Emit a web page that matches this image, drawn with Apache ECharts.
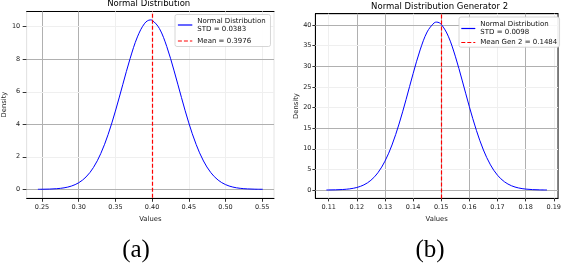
<!DOCTYPE html>
<html><head><meta charset="utf-8">
<script src="https://cdn.jsdelivr.net/npm/echarts@6/dist/echarts.min.js"></script>
<style>html,body{margin:0;padding:0;background:#fff}#c{width:564px;height:264px}</style>
</head><body><div id="c"></div>
<script>
// ---- Panel (a) ----
const leftX = [0.2444,0.25,0.26,0.27,0.28,0.29,0.30,0.31,0.32,0.33,0.34,0.35,0.36,0.37,0.38,0.39,0.3976,0.40,0.41,0.42,0.43,0.44,0.45,0.46,0.47,0.48,0.49,0.50,0.51,0.52,0.53,0.54,0.5508];
const leftY = [0.004,0.006,0.016,0.040,0.093,0.201,0.405,0.761,1.337,2.194,3.361,4.811,6.433,8.034,9.372,10.213,10.416,10.396,9.884,8.779,7.283,5.645,4.085,2.762,1.745,1.029,0.567,0.292,0.141,0.063,0.027,0.010,0.004];
const leftMean = 0.3976;
const leftStd = 0.0383;
const leftXRange = [0.2291, 0.5661];
const leftYRange = [-0.52, 10.94];
const leftXTicks = [0.25,0.30,0.35,0.40,0.45,0.50,0.55];
const leftYTicks = [0,2,4,6,8,10];
const leftTitle = 'Normal Distribution';

// ---- Panel (b) ----
const rightX = [0.1092,0.110,0.1125,0.115,0.1175,0.120,0.1225,0.125,0.1275,0.130,0.1325,0.135,0.1375,0.140,0.1425,0.145,0.1475,0.1484,0.150,0.1525,0.155,0.1575,0.160,0.1625,0.165,0.1675,0.170,0.1725,0.175,0.1775,0.180,0.1825,0.185,0.1876];
const rightY = [0.014,0.019,0.050,0.122,0.282,0.611,1.239,2.353,4.189,6.986,10.918,15.99,21.93,28.20,33.96,38.33,40.54,40.71,40.17,37.30,32.45,26.45,20.20,14.46,9.697,6.094,3.587,1.979,1.023,0.496,0.225,0.096,0.038,0.014];
const rightMean = 0.1484;
const rightStd = 0.0098;
const rightXRange = [0.10528, 0.19152];
const rightYRange = [-2.035, 42.75];
const rightXTicks = [0.11,0.12,0.13,0.14,0.15,0.16,0.17,0.18,0.19];
const rightYTicks = [0,5,10,15,20,25,30,35,40];
const rightTitle = 'Normal Distribution Generator 2';

const captions = ['(a)', '(b)'];

const G = '#b0b0b0', F = '#efefef';
const leftXGrid = [G,G,F,F,F,F,F];
const leftYGrid = [G,F,G,F,G,F];
const rightXGrid = [F,G,G,F,G,G,F,G,F];
const rightYGrid = [G,F,F,G,F,F,G,F,G];

const FONT = 'DejaVu Sans';
const lblStyle = {fontSize: 6.5, color: '#222', fontFamily: FONT};
const nameStyle = {fontSize: 6.8, color: '#222', fontFamily: FONT};

const leftCurveName = 'Normal Distribution\nSTD = ' + leftStd.toFixed(4);
const leftMeanName = 'Mean = ' + leftMean.toFixed(4);
const rightCurveName = 'Normal Distribution\nSTD = ' + rightStd.toFixed(4);
const rightMeanName = 'Mean Gen 2 = ' + rightMean.toFixed(4);

function xAxisDef(grid, range, ticks, dec, margin, tickLen, nameGap){
  return {
    gridIndex: grid, type: 'value', min: range[0], max: range[1],
    axisLine: {show: true, onZero: false, lineStyle: {color: '#000', width: 1}},
    axisTick: {show: true, length: tickLen, customValues: ticks, lineStyle: {color: '#000', width: 0.8}},
    axisLabel: Object.assign({customValues: ticks, formatter: v => Number(v).toFixed(dec), margin: margin, hideOverlap: false,
      alignMinLabel: 'center', alignMaxLabel: 'center'}, lblStyle),
    splitLine: {show: false},
    name: 'Values', nameLocation: 'middle', nameGap: nameGap, nameTextStyle: nameStyle
  };
}
function yAxisDef(grid, range, ticks, margin, tickLen, nameGap, lineColor){
  return {
    gridIndex: grid, type: 'value', min: range[0], max: range[1],
    axisLine: {show: true, onZero: false, lineStyle: {color: lineColor, width: 1}},
    axisTick: {show: true, length: tickLen, customValues: ticks, lineStyle: {color: '#000', width: 0.8}},
    axisLabel: Object.assign({customValues: ticks, formatter: v => String(Math.round(v)), margin: margin, hideOverlap: false}, lblStyle),
    splitLine: {show: false},
    name: 'Density', nameLocation: 'middle', nameGap: nameGap, nameRotate: 90, nameTextStyle: nameStyle
  };
}
function topAxis(grid, range){
  return {gridIndex: grid, type: 'value', position: 'top', min: range[0], max: range[1],
    axisLine: {show: true, onZero: false, lineStyle: {color: '#000', width: 1}},
    axisTick: {show: false}, axisLabel: {show: false}, splitLine: {show: false}};
}
function gridLines(xi, yi, xt, xc, yt, yc){
  const d = [];
  xt.forEach((t, i) => d.push({xAxis: t, lineStyle: {color: xc[i]}}));
  yt.forEach((t, i) => d.push({yAxis: t, lineStyle: {color: yc[i]}}));
  return {type: 'line', xAxisIndex: xi, yAxisIndex: yi, data: [], symbol: 'none', z: 1, silent: true,
    markLine: {silent: true, symbol: 'none', animation: false, z: 1, label: {show: false},
      lineStyle: {type: 'solid', width: 1}, emphasis: {disabled: true}, data: d}};
}
function legendDef(left, top, padding, gap, iw, names){
  return {left: left, top: top, orient: 'vertical', padding: padding, itemGap: gap, z: 20,
    itemWidth: iw, itemHeight: 8, backgroundColor: 'rgba(255,255,255,0.9)', borderColor: '#cccccc', borderWidth: 0.8, borderRadius: 2,
    itemStyle: {opacity: 0, borderWidth: 0}, lineStyle: {width: 1.2}, data: names,
    textStyle: {fontSize: 7, lineHeight: 8, color: '#111', fontFamily: FONT}};
}

const chart = echarts.init(document.getElementById('c'), null, {renderer: 'canvas'});
chart.setOption({
  animation: false,
  backgroundColor: '#fff',
  grid: [
    {left: 23.5, top: 11.4, width: 250.5, height: 186.4, show: true, borderColor: '#e4e4e4', borderWidth: 1, backgroundColor: 'transparent'},
    {left: 315.4, top: 13.7, width: 248.6, height: 184.7, show: true, borderColor: '#000', borderWidth: 1, backgroundColor: 'transparent'}
  ],
  xAxis: [
    xAxisDef(0, leftXRange, leftXTicks, 2, 6, 4, 14.7),
    topAxis(0, leftXRange),
    xAxisDef(1, rightXRange, rightXTicks, 2, 5, 3, 14),
    topAxis(1, rightXRange)
  ],
  yAxis: [
    yAxisDef(0, leftYRange, leftYTicks, 6.5, 4, 15.3, '#e4e4e4'),
    yAxisDef(1, rightYRange, rightYTicks, 4, 3, 15.2, '#000')
  ],
  legend: [
    legendDef(175, 14.5, [2.5, 4.8, 1.5, 2.3], 4, 14.4, [leftCurveName, leftMeanName]),
    legendDef(459, 17, [3.5, 2.3, 0.7, 1.7], 2, 14, [rightCurveName, rightMeanName])
  ],
  graphic: [
    {type: 'text', x: 148.7, y: 4.2, style: {text: leftTitle, align: 'center', verticalAlign: 'middle', textAlign: 'center', textVerticalAlign: 'middle', fontSize: 8.5, fontFamily: FONT, fill: '#000'}},
    {type: 'text', x: 439.6, y: 7.2, style: {text: rightTitle, align: 'center', verticalAlign: 'middle', textAlign: 'center', textVerticalAlign: 'middle', fontSize: 8.5, fontFamily: FONT, fill: '#000'}},
    {type: 'text', x: 136, y: 250, style: {text: captions[0], align: 'center', verticalAlign: 'middle', textAlign: 'center', textVerticalAlign: 'middle', fontSize: 25, fontFamily: 'Liberation Serif', fill: '#000'}},
    {type: 'text', x: 430, y: 250, style: {text: captions[1], align: 'center', verticalAlign: 'middle', textAlign: 'center', textVerticalAlign: 'middle', fontSize: 25, fontFamily: 'Liberation Serif', fill: '#000'}}
  ],
  series: [
    gridLines(0, 0, leftXTicks, leftXGrid, leftYTicks, leftYGrid),
    gridLines(2, 1, rightXTicks, rightXGrid, rightYTicks, rightYGrid),
    {name: leftCurveName, type: 'line', xAxisIndex: 0, yAxisIndex: 0, data: leftX.map((x, i) => [x, leftY[i]]),
     smooth: 0.35, showSymbol: false, symbol: 'none', lineStyle: {color: '#0000ff', width: 1}, itemStyle: {color: '#0000ff'}, z: 3},
    {name: leftMeanName, type: 'line', xAxisIndex: 0, yAxisIndex: 0, data: [], symbol: 'none',
     lineStyle: {color: '#ff0000', width: 1.2, type: [4, 2]}, itemStyle: {color: '#ff0000'}, z: 4,
     markLine: {silent: true, symbol: 'none', z: 4, label: {show: false}, lineStyle: {color: '#ff0000', width: 1.2, type: [4, 2]}, data: [{xAxis: leftMean}]}},
    {name: rightCurveName, type: 'line', xAxisIndex: 2, yAxisIndex: 1, data: rightX.map((x, i) => [x, rightY[i]]),
     smooth: 0.35, showSymbol: false, symbol: 'none', lineStyle: {color: '#0000ff', width: 1}, itemStyle: {color: '#0000ff'}, z: 3},
    {name: rightMeanName, type: 'line', xAxisIndex: 2, yAxisIndex: 1, data: [], symbol: 'none',
     lineStyle: {color: '#ff0000', width: 1.2, type: [4, 2]}, itemStyle: {color: '#ff0000'}, z: 4,
     markLine: {silent: true, symbol: 'none', z: 4, label: {show: false}, lineStyle: {color: '#ff0000', width: 1.2, type: [4, 2]}, data: [{xAxis: rightMean}]}}
  ]
});
</script></body></html>
